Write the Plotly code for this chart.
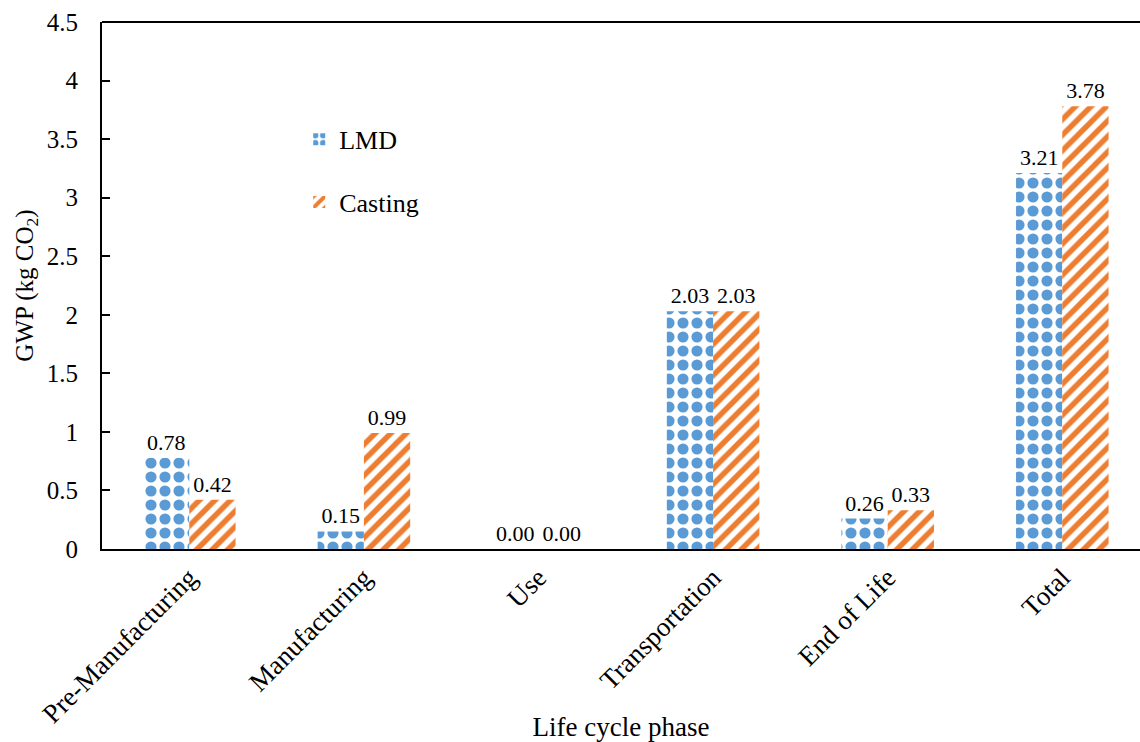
import plotly.graph_objects as go

phases = ["Pre-Manufacturing", "Manufacturing", "Use", "Transportation", "End of Life", "Total"]
lmd = [0.78, 0.15, 0.00, 2.03, 0.26, 3.21]
casting = [0.42, 0.99, 0.00, 2.03, 0.33, 3.78]

FONT = "Liberation Serif, Times New Roman, serif"
BLUE = "#5B9BD5"
ORANGE = "#ED7D31"

fig = go.Figure()
fig.add_trace(go.Bar(
    name="LMD", x=phases, y=lmd, legendgroup="a",
    marker=dict(color="white", line=dict(width=0),
                pattern=dict(shape=".", fgcolor=BLUE, bgcolor="white",
                             size=14, solidity=0.5, fillmode="replace")),
    texttemplate="%{y:.2f}", textposition="outside",
    textfont=dict(family=FONT, size=22, color="black"), cliponaxis=False,
))
fig.add_trace(go.Bar(
    name="Casting", x=phases, y=casting, legendgroup="b",
    marker=dict(color="white", line=dict(width=0),
                pattern=dict(shape="/", fgcolor=ORANGE, bgcolor="white",
                             size=11, solidity=0.5, fillmode="replace")),
    texttemplate="%{y:.2f}", textposition="outside",
    textfont=dict(family=FONT, size=22, color="black"), cliponaxis=False,
))

fig.update_layout(
    width=1140, height=742,
    margin=dict(l=102, r=0, t=22, b=193),
    paper_bgcolor="white", plot_bgcolor="white",
    barmode="group", bargap=0.47, bargroupgap=0,
    font=dict(family=FONT, size=24, color="black"),
    showlegend=True,
    legend=dict(x=0.19, y=0.822, xanchor="left", yanchor="top",
                font=dict(family=FONT, size=26), bgcolor="rgba(0,0,0,0)",
                tracegroupgap=26, itemwidth=30),
)
fig.update_xaxes(
    range=[-0.5, 5.445], tickangle=-45, showline=True, linecolor="black",
    linewidth=2, ticks="", tickfont=dict(family=FONT, size=27),
    title=dict(text="Life cycle phase", font=dict(family=FONT, size=27), standoff=2),
    mirror=False, automargin=False,
)
fig.update_yaxes(
    range=[0, 4.5], dtick=0.5, showline=True, linecolor="black", linewidth=2,
    ticks="inside", ticklen=8, tickwidth=2, tickcolor="black",
    showgrid=False, zeroline=False, tickformat="~g",
    tickfont=dict(family=FONT, size=25), ticklabelstandoff=17,
    title=dict(text="GWP (kg CO<sub>2</sub>)", font=dict(family=FONT, size=25), standoff=6),
    automargin=False,
)
# top border line of the plot frame
fig.add_shape(type="line", xref="paper", yref="paper", x0=0, x1=1, y0=1, y1=1,
              line=dict(color="black", width=2))

fig.write_html("out.html")
